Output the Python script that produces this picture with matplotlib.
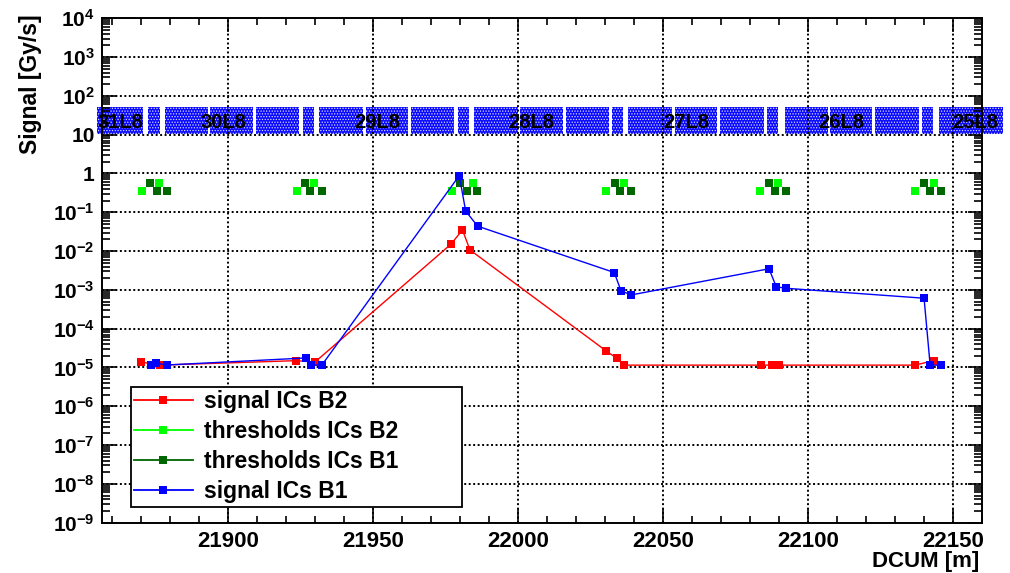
import math
import matplotlib
matplotlib.use("Agg")
import matplotlib.pyplot as plt
from matplotlib.ticker import FuncFormatter, LogLocator, MultipleLocator, NullFormatter
from matplotlib.lines import Line2D

plt.rcParams['font.family'] = ['Liberation Sans', 'DejaVu Sans']
plt.rcParams['font.weight'] = 'bold'
plt.rcParams['mathtext.fontset'] = 'custom'
plt.rcParams['mathtext.rm'] = 'Liberation Sans:bold'
plt.rcParams['mathtext.bf'] = 'Liberation Sans:bold'
plt.rcParams['hatch.linewidth'] = 0.6

# ---- data ----
# signal ICs B2 (red)
b2_x = [21869.9, 21876.4, 21923.4, 21929.9, 21976.8, 21980.8, 21983.4,
        22030.3, 22034.1, 22036.6, 22083.8, 22087.6, 22090.1, 22137.0, 22143.4]
b2_y = [1.38e-5, 1.15e-5, 1.5e-5, 1.38e-5, 0.015, 0.035, 0.0107,
        2.7e-5, 1.72e-5, 1.15e-5, 1.15e-5, 1.15e-5, 1.15e-5, 1.15e-5, 1.5e-5]

# signal ICs B1 (blue)
b1_x = [21873.3, 21875.0, 21878.8, 21926.8, 21928.5, 21932.3, 21979.7, 21981.9, 21986.0,
        22033.2, 22035.5, 22039.0, 22086.6, 22089.1, 22092.5, 22140.1, 22142.2, 22145.9]
b1_y = [1.16e-5, 1.3e-5, 1.16e-5, 1.76e-5, 1.16e-5, 1.16e-5, 0.88, 0.108, 0.044,
        2.8e-3, 9.5e-4, 7.4e-4, 3.5e-3, 1.2e-3, 1.1e-3, 6.1e-4, 1.15e-5, 1.15e-5]

# thresholds
thr_b2_x = [21870.1, 21876.2, 21923.6, 21929.6, 21977.1, 21984.4,
            22030.3, 22036.7, 22083.5, 22089.6, 22137.0, 22143.4]
thr_b2_y = [0.36, 0.56] * 6
thr_b1_x = [21873.0, 21875.3, 21878.9, 21926.5, 21928.2, 21932.4, 21980.0, 21982.3, 21985.7,
            22033.5, 22035.2, 22038.9, 22086.7, 22088.7, 22092.5, 22140.2, 22142.0, 22146.0]
thr_b1_y = [0.56, 0.36, 0.36] * 6

# magnet layout (DCUM start / end)
mag_start = [21854.8, 21872.4, 21878.2, 21893.7, 21909.6, 21925.7, 21931.4, 21947.5,
             21963.0, 21979.2, 21984.9, 22000.7, 22016.6, 22032.5, 22038.1, 22054.0,
             22069.7, 22085.9, 22092.2, 22107.5, 22123.3, 22139.3, 22145.1]
mag_end = [21870.7, 21876.4, 21893.1, 21908.6, 21924.5, 21929.6, 21946.6, 21962.1,
           21978.0, 21983.2, 21999.8, 22015.6, 22031.4, 22036.3, 22053.1, 22068.6,
           22084.7, 22089.8, 22107.1, 22122.1, 22138.2, 22143.3, 22167.5]
mag_low, mag_high = 10.3, 52.0

cell_names = ['31L8', '30L8', '29L8', '28L8', '27L8', '26L8', '25L8']
cell_pos = [21862.9, 21898.3, 21951.5, 22004.6, 22058.2, 22111.4, 22157.7]
cell_label_y = 21.0

# ---- plot ----
fig = plt.figure(figsize=(10.1, 5.73), dpi=100)
ax = fig.add_axes([0.1007, 0.0878, 0.8713, 0.8803])
ax.set_yscale('log')

widths = [e - s for s, e in zip(mag_start, mag_end)]
bars = ax.bar(mag_start, mag_high - mag_low, width=widths, bottom=mag_low, align='edge',
              color='#0a0aff', edgecolor='#d8d8ff', hatch='......', linewidth=0, zorder=0.4)
for b in bars:
    b.set_clip_on(False)
for name, x in zip(cell_names, cell_pos):
    ax.text(x, cell_label_y, name, ha='center', va='center', fontsize=14.5,
            fontweight='bold', zorder=3, clip_on=False)

ax.plot(thr_b2_x, thr_b2_y, 's', color='#00ff00', ms=5.8, mew=0, zorder=3)
ax.plot(thr_b1_x, thr_b1_y, 's', color='#006600', ms=5.8, mew=0, zorder=3)
ax.plot(b2_x, b2_y, '-s', color='#ff0000', lw=1.0, ms=5.2, mew=0, zorder=4)
ax.plot(b1_x, b1_y, '-s', color='#0000ff', lw=1.0, ms=5.2, mew=0, zorder=5)

ax.set_xlim(21856.3, 22160.0)
ax.set_ylim(1e-9, 1e4)

ax.xaxis.set_major_locator(MultipleLocator(50))
ax.xaxis.set_minor_locator(MultipleLocator(10))
ax.yaxis.set_major_locator(LogLocator(base=10, numticks=20))
ax.yaxis.set_minor_locator(LogLocator(base=10, subs=range(2, 10), numticks=20))
ax.yaxis.set_minor_formatter(NullFormatter())


def ylab(v, pos):
    e = int(round(math.log10(v)))
    if e == 0:
        return '1'
    if e == 1:
        return '10'
    return r'$\mathbf{10^{%d}}$' % e


ax.yaxis.set_major_formatter(FuncFormatter(ylab))
ax.xaxis.set_major_formatter(FuncFormatter(lambda v, p: '%d' % v))

ax.tick_params(which='both', direction='in', top=True, right=True, width=1.2)
ax.tick_params(axis='x', which='major', length=10, pad=6, labelsize=16)
ax.tick_params(axis='x', which='minor', length=5)
ax.tick_params(axis='y', which='major', length=10, pad=5, labelsize=15)
ax.tick_params(axis='y', which='minor', length=6)
for s in ax.spines.values():
    s.set_linewidth(1.4)

ax.set_axisbelow(True)
ax.grid(True, which='major', color='black', linestyle=(0, (1, 1.3)), linewidth=1.4)

ax.set_xlabel('DCUM [m]', fontsize=16, fontweight='bold', loc='right')
ax.xaxis.set_label_coords(0.997, -0.056)
ax.xaxis.label.set_va('top')
ax.set_ylabel('Signal [Gy/s]', fontsize=16.5, fontweight='bold', loc='top')
ax.yaxis.set_label_coords(-0.068, 1.008)

handles = [
    Line2D([], [], color='#ff0000', marker='s', ms=5.2, mew=0, lw=1.3),
    Line2D([], [], color='#00ff00', marker='s', ms=5.2, mew=0, lw=1.3),
    Line2D([], [], color='#006600', marker='s', ms=5.2, mew=0, lw=1.3),
    Line2D([], [], color='#0000ff', marker='s', ms=5.2, mew=0, lw=1.3),
]
labels = ['signal ICs B2', 'thresholds ICs B2', 'thresholds ICs B1', 'signal ICs B1']
leg = ax.legend(handles, labels, loc='lower left', bbox_to_anchor=(0.033, 0.032, 0.376, 0.236),
                mode='expand', borderaxespad=0, fancybox=False, framealpha=1,
                edgecolor='black', handlelength=2.55, handletextpad=0.5, borderpad=0.15,
                labelspacing=0.3, prop={'size': 16.5, 'weight': 'bold'})
leg.get_frame().set_linewidth(1.3)
leg.set_zorder(10)

fig.savefig('out.png', dpi=100)
